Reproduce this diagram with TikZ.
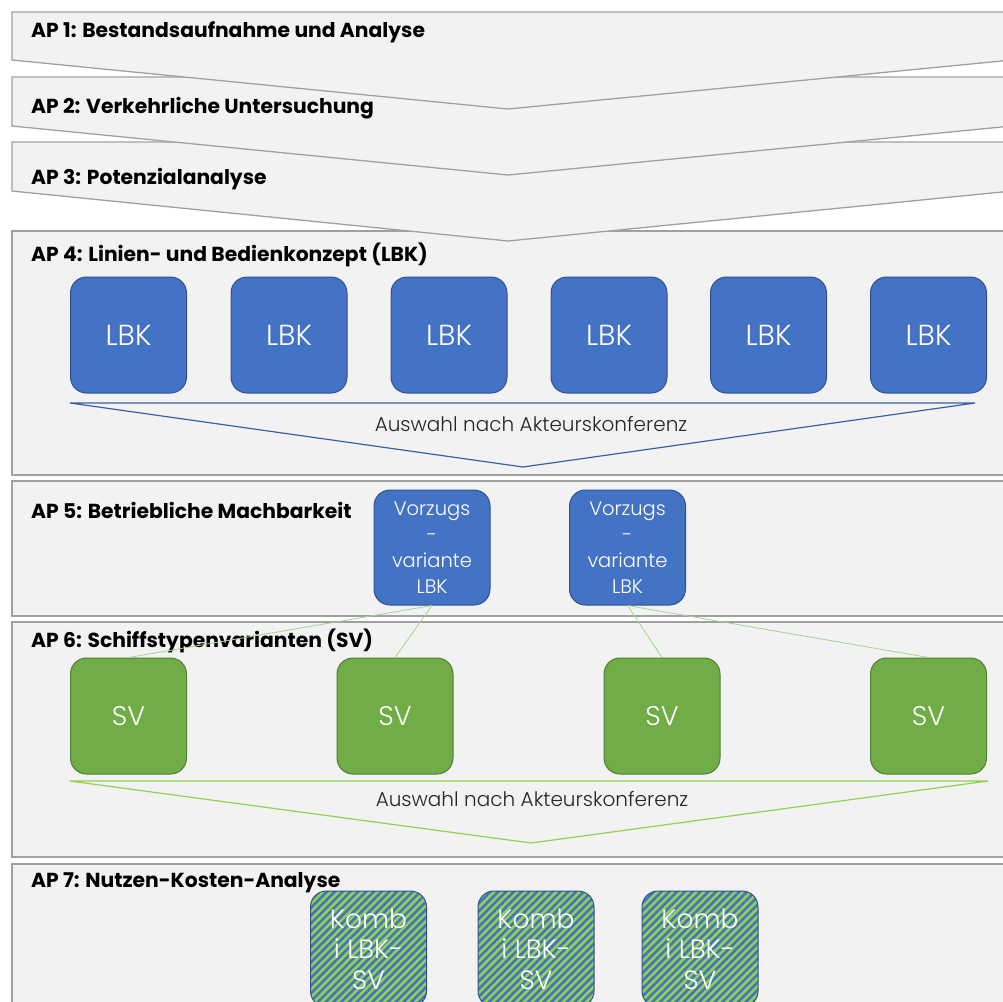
\documentclass[tikz,border=0pt]{standalone}
\usepackage{fontspec}
\setmainfont{Poppins}
\newfontfamily\lightfont{Poppins Light}
\usetikzlibrary{patterns.meta}
\definecolor{frameFill}{HTML}{F2F2F2}
\definecolor{frameLine}{HTML}{A0A0A0}
\definecolor{bluFill}{HTML}{4472C4}
\definecolor{bluLine}{HTML}{2F528F}
\definecolor{grnFill}{HTML}{70AD47}
\definecolor{grnLine}{HTML}{507E32}
\definecolor{chevBlue}{HTML}{3B5FA6}
\definecolor{chevGreen}{HTML}{92D050}
\definecolor{linkGreen}{HTML}{A9D18E}
\definecolor{stripeGreen}{HTML}{92D050}
\definecolor{stripeBlue}{HTML}{4472C4}
\definecolor{textGray}{HTML}{262626}
\tikzset{
  frame/.style={fill=frameFill, draw=frameLine, line width=1.3pt},
  title/.style={anchor=base west, inner sep=0pt, font=\bfseries\fontsize{20.3}{24}\selectfont, text=black},
  box/.style={rounded corners=16pt, minimum width=116pt, minimum height=116pt, inner sep=0pt, line width=1pt, text=white, align=center},
  lbkbox/.style={box, fill=bluFill, draw=bluLine, font=\lightfont\fontsize{29}{32}\selectfont},
  svbox/.style={box, fill=grnFill, draw=grnLine, font=\lightfont\fontsize{27}{30}\selectfont},
  vzbox/.style={box, minimum height=115pt, fill=bluFill, draw=bluLine, font=\lightfont\fontsize{19.5}{26}\selectfont},
  kombbox/.style={box, draw=bluLine, preaction={fill=stripeGreen},
     pattern={Lines[angle=45,distance=5.5pt,line width=2.6pt]}, pattern color=stripeBlue,
     font=\lightfont\fontsize{26.5}{30.5}\selectfont},
  choice/.style={inner sep=0pt, font=\lightfont\fontsize{20}{24}\selectfont, text=textGray},
  link/.style={draw=linkGreen, line width=0.8pt}
}
\begin{document}
\begin{tikzpicture}[x=1pt,y=-1pt]
\useasboundingbox (0,0) rectangle (1003,1001);
\clip (0,0) rectangle (1003,1001);
\fill[white] (0,0) rectangle (1003,1001);
% sections drawn bottom-up
\path[frame] (12,864) rectangle (1012,1012);
\path[frame] (12,622) rectangle (1012,857);
\path[frame] (12,481) rectangle (1012,616);
\path[frame] (12,231) rectangle (1012,475);
\path[frame] (12,142) -- (1012,142) -- (1012,191) -- (508,241) -- (12,191) -- cycle;
\path[frame] (12,77) -- (1012,77) -- (1012,126) -- (508,175) -- (12,126) -- cycle;
\path[frame] (12,12) -- (1012,12) -- (1012,60) -- (508,109) -- (12,60) -- cycle;
% titles
\node[title] (t1) at (31,37) {AP 1: Bestandsaufnahme und Analyse};
\node[title] (t2) at (31,113) {AP 2: Verkehrliche Untersuchung};
\node[title] (t3) at (31,184) {AP 3: Potenzialanalyse};
\node[title] (t4) at (31,261) {AP 4: Linien- und Bedienkonzept (LBK)};
\node[title] (t5) at (31,518) {AP 5: Betriebliche Machbarkeit};
\node[title] (t6) at (31,647) {AP 6: Schiffstypenvarianten (SV)};
\node[title] (t7) at (31,887) {AP 7: Nutzen-Kosten-Analyse};
% AP4
\foreach \i/\x in {1/128.5,2/289,3/449,4/609,5/768.5,6/928.5}
  \node[lbkbox] (l\i) at (\x,335) {LBK};
\coordinate (bl) at (70,403);
\coordinate (br) at (975,403);
\coordinate (bt) at (523,467);
\draw[chevBlue, line width=1.2pt] (bl) -- (br) -- (bt) -- cycle;
\node[choice] (c1) at (531,424) {Auswahl nach Akteurskonferenz};
% AP5
\node[vzbox] (v1) at (432,547.5) {Vorzugs\\-\\variante\\LBK};
\node[vzbox] (v2) at (627.5,547.5) {Vorzugs\\-\\variante\\LBK};
% AP6
\foreach \i/\x in {1/128.5,2/395,3/662,4/928.5}
  \node[svbox] (s\i) at (\x,716) {SV};
\coordinate (gl) at (70,781);
\coordinate (gr) at (988,781);
\coordinate (gt) at (531,843);
\draw[chevGreen, line width=1.2pt] (gl) -- (gr) -- (gt) -- cycle;
\node[choice] (c2) at (532,799) {Auswahl nach Akteurskonferenz};
% links
\draw[link] (v1.south) -- (s1.north);
\draw[link] (v1.south) -- (s2.north);
\draw[link] (v2.south) -- (s3.north);
\draw[link] (v2.south) -- (s4.north);
% AP7
\foreach \i/\x in {1/368.5,2/536,3/700}
  \node[kombbox] (k\i) at (\x,949) {Komb\\i LBK-\\SV};
\end{tikzpicture}
\end{document}
